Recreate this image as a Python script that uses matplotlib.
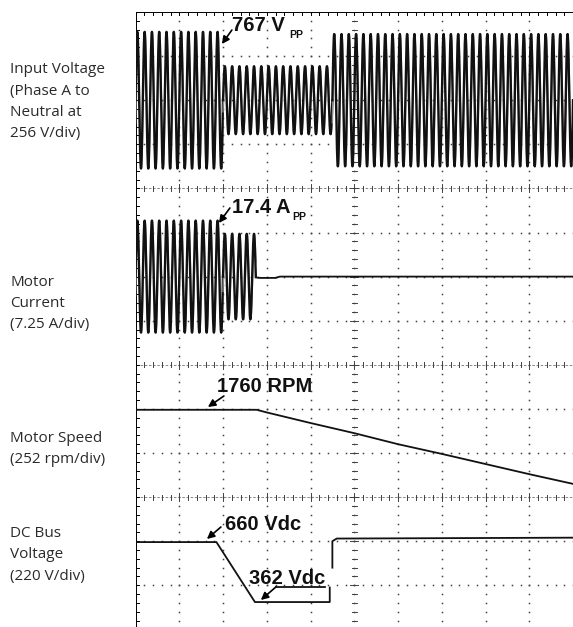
import matplotlib.pyplot as plt
import numpy as np

# screen: 10 time divisions, 14 stacked vertical divisions
N_XDIV = 10
Y_TOP = 14.0
Y_BOTTOM = 14.0 - 615 / 44.1

sep_levels = [10, 6, 3]      # channel separator lines (with minor ticks)
center_time = 5              # centre time axis (with minor ticks)

# input voltage, phase A to neutral (divisions)
volt_center = 12.0
volt_seg_start = [0.0, 2.0, 4.5]
volt_seg_end = [2.0, 4.5, 10.0]
volt_seg_amp = [1.55, 0.77, 1.5]
cycles_per_div = 6.0

# motor current (divisions)
cur_center = 8.0
cur_seg_start = [0.0, 2.0]
cur_seg_end = [2.0, 2.75]
cur_seg_amp = [1.27, 0.97]
cur_tail_x = [2.75, 2.85, 3.2, 3.3, 10.0]
cur_tail_y = [7.98, 7.97, 7.97, 8.0, 8.0]

# motor speed (divisions)
speed_x = [0.0, 2.5, 2.77, 3.0, 4.0, 5.0, 6.0, 7.0, 8.0, 9.0, 10.0]
speed_y = [4.98, 4.98, 4.98, 4.92, 4.68, 4.45, 4.20, 3.98, 3.75, 3.52, 3.30]

# DC bus voltage (divisions)
bus_x = [0.0, 1.85, 2.73, 4.44, 4.44, np.nan, 4.5, 4.5, 4.6, 10.0]
bus_y = [1.98, 1.98, 0.62, 0.62, 0.95, np.nan, 1.4, 2.0, 2.06, 2.08]

# channel labels: (text lines, baseline pixel of each line)
labels = [
    (["Input Voltage", "(Phase A to", "Neutral at", "256 V/div)"], [73, 95, 116, 137]),
    (["Motor", "Current", "(7.25 A/div)"], [286, 307, 328]),
    (["Motor Speed", "(252 rpm/div)"], [442, 463]),
    (["DC Bus", "Voltage", "(220 V/div)"], [537, 558, 580]),
]

W, H = 573, 627
fig = plt.figure(figsize=(W / 100, H / 100), dpi=100)
ax = fig.add_axes([135.5 / W, 0, 1 - 135.5 / W, 1 - 12 / H])
ax.set_xlim(0, N_XDIV)
ax.set_ylim(Y_BOTTOM, Y_TOP)
ax.axis("off")

dot = dict(ls="none", marker="s", ms=1.1, color="0.25", mew=0)
minor = np.arange(0, N_XDIV + 0.01, 0.2)
minor_y = np.arange(0, Y_TOP + 0.01, 0.2)

# dotted graticule
for gx in range(1, N_XDIV):
    if gx == center_time:
        continue
    ax.plot(np.full_like(minor_y, gx), minor_y, **dot)
for gy in range(1, int(Y_TOP)):
    if gy in sep_levels:
        continue
    ax.plot(minor, np.full_like(minor, gy), **dot)

# separator lines and centre axis with tick marks
px_x = N_XDIV / (W - 135.5)
px_y = 1 / 44.1
for sy in sep_levels:
    ax.plot([0, N_XDIV], [sy, sy], color="0.45", lw=0.6, ls=(0, (3, 2)))
    for mx in minor:
        h = 4 if abs(mx - round(mx)) < 1e-6 else 2.5
        ax.plot([mx, mx], [sy - h * px_y, sy + h * px_y], color="0.25", lw=0.7)
ax.plot([center_time] * len(minor_y), minor_y, **dot)
for my in minor_y:
    h = 4 if abs(my - round(my)) < 1e-6 else 2.5
    ax.plot([center_time - h * px_x, center_time + h * px_x], [my, my], color="0.25", lw=0.7)

# screen border (left and top) with small ticks
ax.plot([0, 0], [Y_BOTTOM, Y_TOP], color="k", lw=1.4, solid_capstyle="butt")
ax.plot([0, N_XDIV], [Y_TOP, Y_TOP], color="k", lw=1.4, solid_capstyle="butt")
for my in minor_y:
    ax.plot([0, 3 * px_x], [my, my], color="k", lw=0.7)
for mx in minor:
    ax.plot([mx, mx], [Y_TOP, Y_TOP - 3 * px_y], color="k", lw=0.7)

trace = dict(color="#111111", lw=1.3)


def ac_trace(center, starts, ends, amps):
    # scope trace of an AC channel: dark stroke plus a faint ghost stroke
    for s, e, a in zip(starts, ends, amps):
        t = np.linspace(s, e, int((e - s) * 900))
        ph = 2 * np.pi * cycles_per_div * t
        ax.plot(t, center + a * np.sin(ph - 0.35), color="0.55", lw=1.0)
        ax.plot(t, center + a * np.sin(ph), color="#111111", lw=1.7)


ac_trace(volt_center, volt_seg_start, volt_seg_end, volt_seg_amp)
ac_trace(cur_center, cur_seg_start, cur_seg_end, cur_seg_amp)
ax.plot(cur_tail_x, cur_tail_y, **trace)

ax.plot(speed_x, speed_y, **trace)
ax.plot(bus_x, bus_y, **trace)


def to_data(xp, yp):
    return (xp - 135.5) / 43.8, Y_TOP - (yp - 12) / 44.1


def arrow(tail, tip):
    ax.annotate("", xy=to_data(*tip), xytext=to_data(*tail),
                arrowprops=dict(arrowstyle="-|>", color="k", lw=1.2,
                                mutation_scale=11, shrinkA=0, shrinkB=0))


bold = dict(family="Liberation Sans", weight="bold", fontsize=14.5,
            ha="left", va="center", color="#111111")
sub = dict(family="Liberation Sans", weight="bold", fontsize=7.5,
           ha="left", va="center", color="#111111")

ax.text(*to_data(232, 25), "767 V", **bold)
ax.text(*to_data(289, 35), "PP", **sub)
arrow((232, 30), (222, 44))

ax.text(*to_data(232, 207), "17.4 A", **bold)
ax.text(*to_data(292, 217), "PP", **sub)
arrow((230, 208), (219, 223))

ax.text(*to_data(217, 387), "1760 RPM", **bold)
arrow((224, 396), (208, 407))

ax.text(*to_data(225, 525), "660 Vdc", **bold)
arrow((221, 527), (207, 539))

ax.text(*to_data(249, 578), "362 Vdc", **bold)
ax.plot(*zip(to_data(276, 587), to_data(325, 587)), color="#111111", lw=1.3)
arrow((276, 587), (261, 600))

for lines, ys in labels:
    for txt, yp in zip(lines, ys):
        fig.text(10 / W, 1 - yp / H, txt, family="Open Sans", fontsize=11,
                 ha="left", va="baseline", color="#2a2a2a")

fig.savefig("out.png", dpi=100)
